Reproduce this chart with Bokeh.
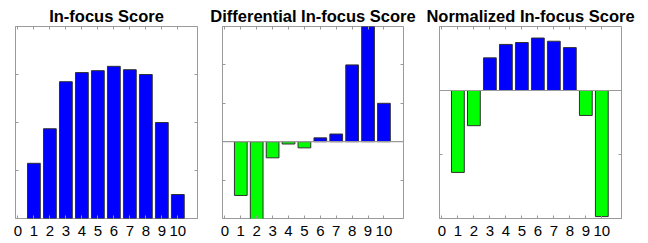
from bokeh.plotting import figure
from bokeh.layouts import row
from bokeh.models import LinearAxis, FixedTicker, Span, Range1d, ColumnDataSource
from bokeh.embed import file_html
from bokeh.resources import INLINE

# ---- data ----
positions = [1, 2, 3, 4, 5, 6, 7, 8, 9, 10]
infocus_score = [1.15, 1.87, 2.85, 3.04, 3.08, 3.17, 3.10, 3.00, 2.00, 0.50]
differential_score = [-1.40, -2.10, -0.42, -0.06, -0.16, 0.10, 0.20, 2.00, 3.10, 1.00]
normalized_score = [-1.28, -0.55, 0.51, 0.72, 0.75, 0.82, 0.77, 0.67, -0.39, -1.97]
titles = ["In-focus Score", "Differential In-focus Score", "Normalized In-focus Score"]
x_tick_values = [0, 1, 2, 3, 4, 5, 6, 7, 8, 9, 10]
y_ticks_1 = [0, 1, 2, 3, 4]
y_ticks_2 = [-2, -1, 0, 1, 2, 3]
y_ticks_3 = [-2, -1, 0, 1]

BLUE = "#0000ff"
GREEN = "#00ff00"
GRAY = "#9a9a9a"
FONT = "Liberation Sans"


def panel(title, values, yticks, width, left, right, zero_line):
    p = figure(width=width, height=243,
               x_range=Range1d(-0.15, 11.23),
               y_range=Range1d(yticks[0], yticks[-1]),
               output_backend="svg", toolbar_location=None,
               x_axis_location=None, y_axis_location=None,
               min_border_left=left, min_border_right=right,
               min_border_top=26, min_border_bottom=25,
               title=title)
    p.title.align = "center"
    p.title.text_font = FONT
    p.title.text_font_size = "16.5px"
    p.title.text_font_style = "bold"
    p.title.text_color = "black"
    p.title.standoff = 3
    p.title.offset = 0

    p.grid.visible = False
    p.outline_line_color = GRAY
    p.outline_line_width = 1
    p.background_fill_color = "white"
    p.border_fill_color = "white"

    colors = [BLUE if v >= 0 else GREEN for v in values]
    src = ColumnDataSource(dict(x=positions, top=values, color=colors))
    p.vbar(x="x", top="top", bottom=0, width=0.8, source=src,
           fill_color="color", line_color="#303030", line_width=1)

    if zero_line:
        p.add_layout(Span(location=0, dimension="width", line_color=GRAY, line_width=1.2))

    # bottom axis with labels
    xb = LinearAxis(ticker=FixedTicker(ticks=x_tick_values))
    xb.axis_line_color = None
    xb.major_tick_line_color = GRAY
    xb.major_tick_in = 3
    xb.major_tick_out = 0
    xb.minor_tick_line_color = None
    xb.major_label_standoff = 7
    xb.major_label_text_font = FONT
    xb.major_label_text_font_size = "15px"
    xb.major_label_text_color = "black"
    p.add_layout(xb, "below")

    # unlabeled tick axes on the other sides
    for side, ticks in (("above", x_tick_values), ("left", yticks), ("right", yticks)):
        ax = LinearAxis(ticker=FixedTicker(ticks=ticks))
        ax.axis_line_color = None
        ax.major_tick_line_color = GRAY
        ax.major_tick_in = 3
        ax.major_tick_out = 0
        ax.minor_tick_line_color = None
        ax.major_label_standoff = 0
        ax.major_label_text_font_size = "0px"
        ax.major_label_overrides = {t: "" for t in ticks}
        p.add_layout(ax, side)
    return p


p1 = panel(titles[0], infocus_score, y_ticks_1, 207, 15, 10, False)
p2 = panel(titles[1], differential_score, y_ticks_2, 212, 15, 16, True)
p3 = panel(titles[2], normalized_score, y_ticks_3, 219, 20, 17, True)

layout = row(p1, p2, p3, spacing=0)
open("out.html", "w").write(file_html(layout, INLINE))
